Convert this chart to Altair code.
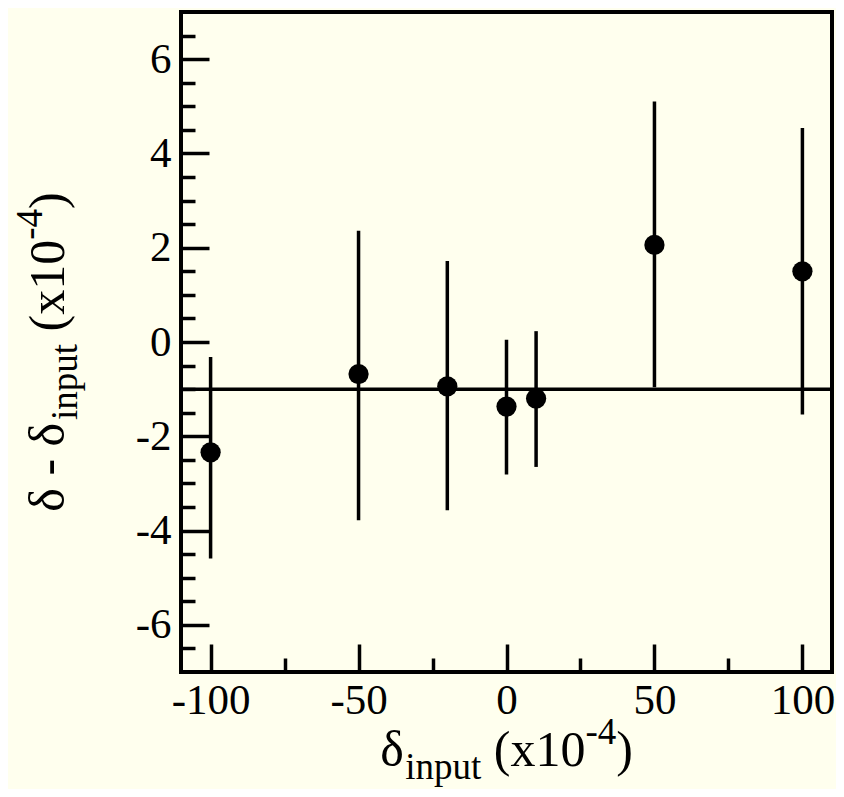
import altair as alt
import pandas as pd

# ---- data ----
x_input = [-100, -50, -20, 0, 10, 50, 100]
y_center = [-2.34, -0.68, -0.94, -1.37, -1.20, 2.06, 1.50]
y_upper = [-0.32, 2.36, 1.72, 0.05, 0.23, 5.10, 4.54]
y_lower = [-4.59, -3.78, -3.57, -2.81, -2.65, -0.96, -1.54]
ref_level = [-1.0]

x_major = [-100, -50, 0, 50, 100]
x_minor = [-75, -25, 25, 75]
y_major = [-6, -4, -2, 0, 2, 4, 6]
y_minor = [-6.5, -5.5, -5, -4.5, -3.5, -3, -2.5, -1.5, -1, -0.5,
           0.5, 1, 1.5, 2.5, 3, 3.5, 4.5, 5, 5.5, 6.5]

x_domain = [-110, 110]
y_domain = [-7, 7]

# ---- layout / style ----
W, H = 651, 660
BG = "#FFFFEE"
FONT = "Liberation Serif"
TICK_FS = 43
MAJ, MIN = 28, 14
M_FS, S_FS = 50, 37
NB = "\u00a0"

df = pd.DataFrame({"x": x_input, "y": y_center, "lo": y_lower, "hi": y_upper})
ref_df = pd.DataFrame({"y": ref_level})

xs = alt.Scale(domain=x_domain, nice=False, zero=False)
ys = alt.Scale(domain=y_domain, nice=False, zero=False)

x_axis = alt.Axis(
    values=sorted(x_major + x_minor),
    labelExpr="datum.value % 50 === 0 ? '' + datum.value : ''",
    tickSize={"expr": f"datum.value % 50 === 0 ? -{MAJ} : -{MIN}"},
    tickWidth=3.5, tickColor="black", domain=False, grid=False,
    labelFont=FONT, labelFontSize=TICK_FS, labelColor="black",
    labelPadding=MAJ + 7, labelBaseline="top", labelFlush=False,
    labelOverlap=False, title=None,
)
y_axis = alt.Axis(
    values=sorted(y_major + y_minor),
    labelExpr="datum.value % 2 === 0 ? '' + datum.value : ''",
    tickSize={"expr": f"datum.value % 2 === 0 ? -{MAJ} : -{MIN}"},
    tickWidth=3.5, tickColor="black", domain=False, grid=False,
    labelFont=FONT, labelFontSize=TICK_FS, labelColor="black",
    labelPadding=MAJ + 10, labelBaseline="middle", labelFlush=False,
    labelOverlap=False, title=None,
)

ref_rule = alt.Chart(ref_df).mark_rule(color="black", strokeWidth=3.5).encode(
    y=alt.Y("y:Q", scale=ys, axis=y_axis)
)
bars = alt.Chart(df).mark_rule(color="black", strokeWidth=3.5).encode(
    x=alt.X("x:Q", scale=xs, axis=x_axis),
    y=alt.Y("lo:Q", scale=ys, axis=y_axis),
    y2="hi:Q",
)
points = alt.Chart(df).mark_circle(color="black", opacity=1, size=410).encode(
    x=alt.X("x:Q", scale=xs, axis=x_axis),
    y=alt.Y("y:Q", scale=ys, axis=y_axis),
)

# ---- axis titles composed of text pieces (sub/superscripts) ----
WID = {"δ": 0.5, " ": 0.25, NB: 0.25, "-": 0.333, "(": 0.333, ")": 0.333,
       "x": 0.5, "1": 0.5, "0": 0.5, "4": 0.5, "i": 0.278, "n": 0.5,
       "p": 0.5, "u": 0.5, "t": 0.278}


def tw(s, fs):
    return sum(WID.get(c, 0.5) for c in s) * fs


def piece(text, px, py, fs, angle=0):
    return alt.Chart(pd.DataFrame({"t": [text]})).mark_text(
        font=FONT, fontSize=fs, color="black", align="left",
        baseline="alphabetic", angle=angle,
    ).encode(text="t:N", x=alt.value(px), y=alt.value(py))


GAP = 0.25 * M_FS  # word space before the parenthesis


def title_pieces(main):
    # (text, font size, vertical shift kind, gap before)
    return [(main, M_FS, 0, 0), ("input", S_FS, 1, 0), ("(x10", M_FS, 0, GAP),
            ("-4", S_FS, -1, 0), (")", M_FS, 0, 0)]


SUB, SUP = 13, 22
layers = []
# x title
xt = title_pieces("δ")
total = sum(tw(t, f) + g for t, f, _, g in xt)
cx = W / 2 - total / 2
base_y = H + 94
for t, f, k, g in xt:
    cx += g
    off = SUB if k == 1 else (-SUP if k == -1 else 0)
    layers.append(piece(t, cx, base_y + off, f))
    cx += tw(t, f)

# y title (rotated, reading bottom to top)
yt = title_pieces("δ" + NB + "-" + NB + "δ")
total = sum(tw(t, f) + g for t, f, _, g in yt)
cy = 340 + total / 2
base_x = -117
for t, f, k, g in yt:
    cy -= g
    off = SUB if k == 1 else (-SUP if k == -1 else 0)
    layers.append(piece(t, base_x + off, cy, f, angle=270))
    cy -= tw(t, f)

chart = alt.layer(ref_rule, bars, points, *layers).properties(
    width=W, height=H,
    autosize=alt.AutoSizeParams(type="none"),
    padding={"left": 173, "top": 4, "right": 4, "bottom": 117},
    background=BG,
).configure_view(stroke="black", strokeWidth=4, fill=BG)

chart.save("out.html", embed_options={"renderer": "svg", "actions": False})
